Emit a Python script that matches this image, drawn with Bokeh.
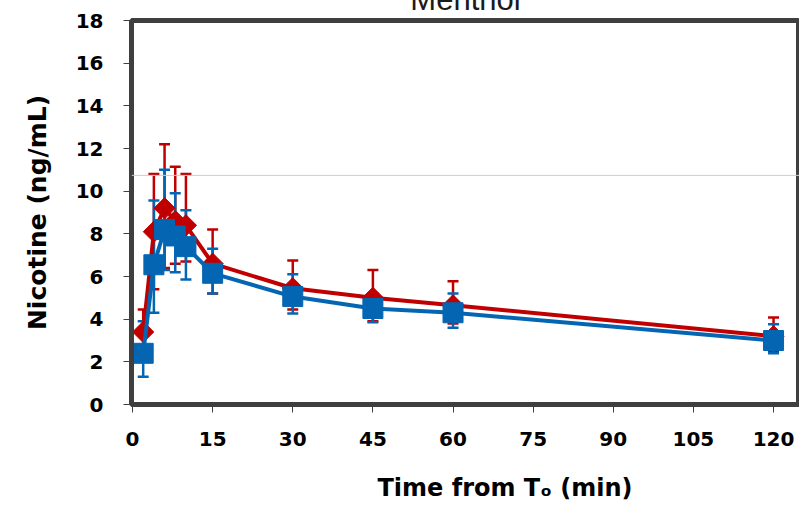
import numpy as np
from bokeh.plotting import figure
from bokeh.models import Whisker, ColumnDataSource, Span, FixedTicker, TeeHead, Range1d, Title
from bokeh.embed import file_html
from bokeh.resources import INLINE

# ---- data ----
times = [2, 4, 6, 8, 10, 15, 30, 45, 60, 120]

red_mean = [3.4, 8.1, 9.2, 8.6, 8.4, 6.6, 5.45, 5.0, 4.65, 3.2]
red_upper = [4.45, 10.8, 12.2, 11.15, 10.8, 8.2, 6.75, 6.3, 5.78, 4.08]
red_lower = [2.4, 5.4, 6.4, 6.6, 6.7, 5.2, 4.45, 3.9, 3.8, 2.5]

blue_mean = [2.4, 6.55, 8.2, 7.9, 7.4, 6.15, 5.06, 4.5, 4.3, 3.0]
blue_upper = [3.9, 9.56, 11.0, 9.9, 9.1, 7.3, 6.1, 5.2, 5.2, 3.76]
blue_lower = [1.3, 4.3, 6.3, 6.2, 5.86, 5.2, 4.27, 3.85, 3.6, 2.4]

x_ticks = [0, 15, 30, 45, 60, 75, 90, 105, 120]
y_ticks = [0, 2, 4, 6, 8, 10, 12, 14, 16, 18]

title_text = "Menthol"
x_label = "Time from Tₒ (min)"
y_label = "Nicotine (ng/mL)"

RED = "#C00000"
BLUE = "#0466B2"
AXIS = "#3f3f3f"
FONT = "DejaVu Sans"

p = figure(frame_width=668, frame_height=384, output_backend="svg", toolbar_location=None,
           x_range=Range1d(-0.19, 124.86), y_range=Range1d(0, 18),
           min_border_left=123, min_border_right=0, min_border_top=0,
           min_border_bottom=0, margin=(-24, 0, 0, 8))
p.title.text = title_text
p.title.align = "center"
p.title.text_font = "Liberation Sans"
p.title.text_font_size = "31px"
p.title.text_font_style = "normal"
p.title.text_color = "#1a1a1a"
p.title.standoff = 7

p.background_fill_color = "white"
p.border_fill_color = "white"
p.outline_line_color = AXIS
p.outline_line_width = 5
p.xgrid.visible = False
p.ygrid.visible = False

src_r = ColumnDataSource(dict(x=times, y=red_mean, up=red_upper, lo=red_lower))
src_b = ColumnDataSource(dict(x=times, y=blue_mean, up=blue_upper, lo=blue_lower))

p.add_layout(Span(location=10.74, dimension="width", line_color="#cccccc", line_width=1))

for src, col in ((src_r, RED), (src_b, BLUE)):
    w = Whisker(source=src, base="x", upper="up", lower="lo", dimension="height",
                line_color=col, line_width=2.5, level="underlay",
                upper_head=TeeHead(size=11, line_color=col, line_width=2.5),
                lower_head=TeeHead(size=11, line_color=col, line_width=2.5))
    p.add_layout(w)

p.line("x", "y", source=src_r, line_color=RED, line_width=4)
p.scatter("x", "y", source=src_r, marker="square", angle=np.pi / 4, size=15,
          fill_color=RED, line_color=RED)

p.line("x", "y", source=src_b, line_color=BLUE, line_width=4)
p.scatter("x", "y", source=src_b, marker="square", size=20,
          fill_color=BLUE, line_color=BLUE)

# axes
p.xaxis.ticker = FixedTicker(ticks=x_ticks)
p.yaxis.ticker = FixedTicker(ticks=y_ticks)
for ax in (p.xaxis[0], p.yaxis[0]):
    ax.axis_line_color = AXIS
    ax.axis_line_width = 5
    ax.major_tick_line_color = AXIS
    ax.major_tick_line_width = 1
    ax.major_tick_out = 8
    ax.major_tick_in = 0
    ax.minor_tick_line_color = None
    ax.major_label_text_font = FONT
    ax.major_label_text_font_style = "bold"
    ax.major_label_text_font_size = "20px"
    ax.major_label_text_color = "black"
    ax.axis_label_text_font = FONT
    ax.axis_label_text_font_style = "bold"
    ax.axis_label_text_color = "black"

p.xaxis.major_label_standoff = 19
p.yaxis.major_label_standoff = 20
p.yaxis.axis_label = y_label
p.yaxis.axis_label_text_font_size = "25px"
p.yaxis.axis_label_standoff = 21

p.add_layout(Title(text=x_label, align="left", offset=246, standoff=47,
                   text_font=FONT, text_font_style="bold", text_font_size="24px",
                   text_color="black"), "below")

open("out.html", "w").write(file_html(p, INLINE))
